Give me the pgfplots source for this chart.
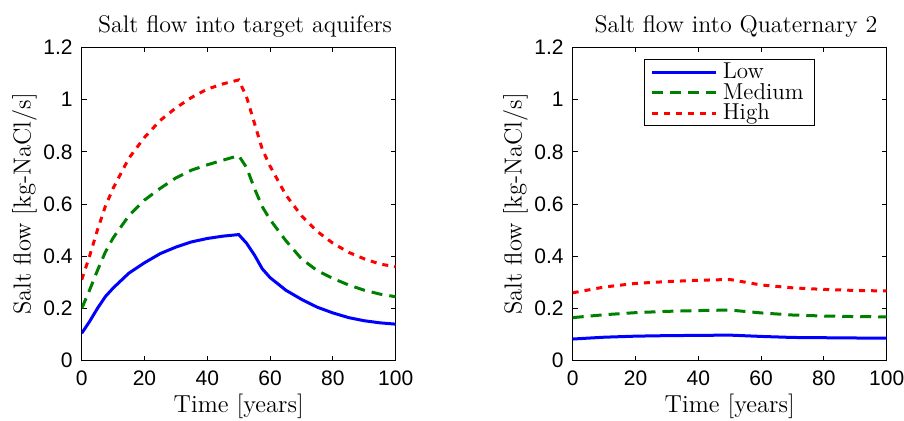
\documentclass[border=0pt]{standalone}
\usepackage{pgfplots}
\usepackage{fontspec}
\pgfplotsset{compat=1.18}
\newfontfamily\ticksf{Liberation Sans}
\definecolor{mblue}{rgb}{0,0,1}
\definecolor{mgreen}{rgb}{0,0.5,0}
\definecolor{mred}{rgb}{1,0,0}

\pgfplotstableread{
t     low    med    high
0     0.105  0.200  0.310
2.5   0.150  0.270  0.400
5     0.200  0.345  0.500
7.5   0.245  0.415  0.590
10    0.278  0.470  0.660
15    0.335  0.555  0.775
20    0.375  0.615  0.855
25    0.410  0.660  0.920
30    0.435  0.700  0.968
35    0.455  0.730  1.008
40    0.468  0.750  1.040
45    0.477  0.768  1.060
50    0.483  0.785  1.075
52.5  0.450  0.740  1.010
55    0.405  0.660  0.910
57.5  0.352  0.590  0.810
60    0.318  0.540  0.745
65    0.270  0.460  0.635
70    0.235  0.390  0.555
75    0.205  0.345  0.495
80    0.183  0.315  0.450
85    0.165  0.290  0.415
90    0.153  0.270  0.390
95    0.145  0.255  0.370
100   0.140  0.245  0.360
}\target

\pgfplotstableread{
t     low    med    high
0     0.083  0.165  0.260
10    0.090  0.176  0.282
20    0.094  0.184  0.296
30    0.096  0.189  0.303
40    0.097  0.192  0.308
50    0.098  0.194  0.311
60    0.093  0.183  0.290
70    0.089  0.175  0.279
80    0.088  0.171  0.273
90    0.087  0.169  0.269
100   0.086  0.168  0.267
}\quat

\pgfplotsset{
  saltstyle/.style={
    scale only axis,
    width=157pt, height=156.7pt,
    xmin=0, xmax=100, ymin=0, ymax=1.2,
    xtick={0,20,...,100},
    ytick={0,0.2,...,1.2},
    tick align=inside,
    major tick length=2.5pt,
    axis line style={line width=0.6pt},
    every tick/.style={black, line width=0.5pt},
    /pgf/number format/assume math mode=true,
    /pgf/number format/fixed,
    tick label style={font=\ticksf\fontsize{10.5}{12}\selectfont},
    xticklabel style={yshift=-1.5pt},
    yticklabel style={xshift=-1pt},
    every axis title shift=0pt,
    title style={at={(axis description cs:0.52,1.048)}, anchor=base,
      font=\fontsize{12}{14}\selectfont},
    xlabel style={at={(axis description cs:0.5,-0.164)}, anchor=base,
      font=\fontsize{12.3}{14}\selectfont},
    ylabel style={at={(axis description cs:-0.1625,0.5)}, anchor=base,
      font=\fontsize{12.3}{14}\selectfont},
    xlabel={Time [years]},
    ylabel={Salt flow [kg-NaCl/s]},
    legend image code/.code={\draw[##1] (0pt,0pt) -- (32pt,0pt);},
  },
  lowline/.style={mblue, line width=1.5pt},
  medline/.style={mgreen, line width=1.5pt, dash pattern=on 5.5pt off 3.5pt},
  highline/.style={mred, line width=1.5pt, dash pattern=on 3pt off 3pt},
}

\begin{document}
\begin{tikzpicture}
\begin{axis}[saltstyle, at={(0,0)}, anchor=south west,
  title={Salt flow into target aquifers}]
  \addplot[lowline] table[x=t, y=low] {\target};
  \addplot[medline] table[x=t, y=med] {\target};
  \addplot[highline] table[x=t, y=high] {\target};
\end{axis}
\begin{axis}[saltstyle, at={(245.5pt,0)}, anchor=south west,
  title={Salt flow into Quaternary 2},
  legend cell align=left,
  legend style={at={(axis description cs:0.5,0.962)}, anchor=north,
    draw=black, line width=0.6pt, inner xsep=3pt, inner ysep=1.5pt,
    row sep=0.8pt,
    font=\fontsize{11.5}{12}\selectfont,
    nodes={inner xsep=2.5pt, inner ysep=0pt}}]
  \addplot[lowline] table[x=t, y=low] {\quat};
  \addplot[medline] table[x=t, y=med] {\quat};
  \addplot[highline] table[x=t, y=high] {\quat};
  \legend{Low, Medium, High}
\end{axis}
\pgfresetboundingbox
\path (-40.85pt,-29.65pt) rectangle (411.15pt,180.35pt);
\end{tikzpicture}
\end{document}
